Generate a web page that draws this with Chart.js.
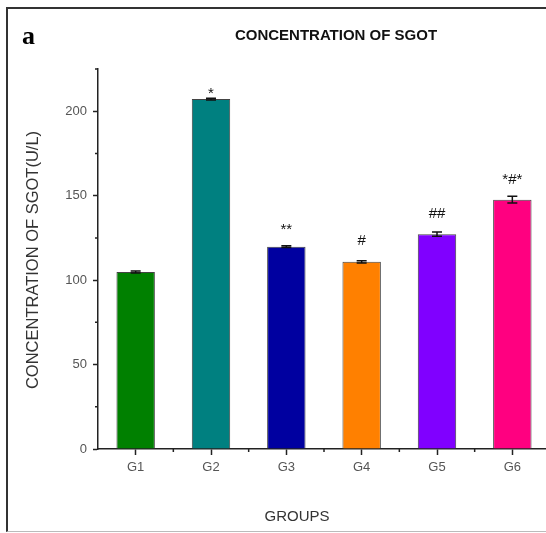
<!DOCTYPE html>
<html>
<head>
<meta charset="utf-8">
<script src="https://cdn.jsdelivr.net/npm/chart.js@4"></script>
<style>
html, body { margin: 0; padding: 0; background: #fff; overflow: hidden; }
#wrap { position: relative; width: 552px; height: 533px; }
#frame { position: absolute; left: 6px; top: 7px; width: 600px; height: 525px; box-sizing: border-box;
  border-top: 2px solid #333; border-left: 2px solid #333; border-bottom: 1px solid #bbb; }
canvas { position: absolute; left: 0; top: 0; }
</style>
</head>
<body>
<div id="wrap">
  <div id="frame"></div>
  <canvas id="sgotChart" width="552" height="533"></canvas>
</div>
<script>
// values
const groups = ['G1', 'G2', 'G3', 'G4', 'G5', 'G6'];
const sgotMean = [104.8, 207.2, 119.8, 110.8, 127.2, 147.6];
const sgotErr = [0.6, 0.5, 0.5, 0.6, 1.3, 2.0];
const sigLabels = ['', '*', '**', '#', '##', '*#*'];
const yTicks = [0, 50, 100, 150, 200];
const yMinorTicks = [25, 75, 125, 175, 225];

const barColors = ['#008000', '#008080', '#0000a0', '#ff8000', '#8000ff', '#ff0080'];
const labelGap = [0, 0, 12, 16, 14, 12];
const sans = '"Liberation Sans", Arial, sans-serif';

// error bars, significance marks, minor ticks and the loose texts
const extras = {
  id: 'extras',
  afterDatasetsDraw(chart) {
    const ctx = chart.ctx;
    const x = chart.scales.x, y = chart.scales.y;
    const bars = chart.getDatasetMeta(0).data;
    ctx.save();
    ctx.strokeStyle = '#111';
    ctx.lineWidth = 1.5;
    ctx.fillStyle = '#111';
    ctx.font = '15px ' + sans;
    ctx.textAlign = 'center';
    ctx.textBaseline = 'alphabetic';
    bars.forEach((bar, i) => {
      const top = y.getPixelForValue(sgotMean[i] + sgotErr[i]);
      const bot = y.getPixelForValue(sgotMean[i] - sgotErr[i]);
      ctx.beginPath();
      ctx.moveTo(bar.x, top); ctx.lineTo(bar.x, bot);
      ctx.moveTo(bar.x - 5, top); ctx.lineTo(bar.x + 5, top);
      ctx.moveTo(bar.x - 5, bot); ctx.lineTo(bar.x + 5, bot);
      ctx.stroke();
      ctx.fillText(sigLabels[i], bar.x, top - labelGap[i]);
    });

    // minor ticks
    ctx.strokeStyle = '#222';
    ctx.beginPath();
    yMinorTicks.forEach(v => {
      const py = y.getPixelForValue(v);
      ctx.moveTo(y.right - 3, py); ctx.lineTo(y.right, py);
    });
    const step = x.getPixelForTick(1) - x.getPixelForTick(0);
    groups.forEach((g, i) => {
      const px = x.getPixelForTick(i) + step / 2;
      ctx.moveTo(px, x.top); ctx.lineTo(px, x.top + 3);
    });
    ctx.stroke();

    // panel letter, title, axis titles
    ctx.fillStyle = '#000';
    ctx.textAlign = 'left';
    ctx.font = 'bold 26px "Liberation Serif", "Times New Roman", serif';
    ctx.fillText('a', 22, 44);

    ctx.textAlign = 'center';
    ctx.textBaseline = 'middle';
    ctx.font = 'bold 15px ' + sans;
    ctx.fillStyle = '#111';
    ctx.fillText('CONCENTRATION OF SGOT', 336, 36);

    ctx.fillStyle = '#333';
    ctx.font = '15px ' + sans;
    ctx.fillText('GROUPS', 297, 517);

    ctx.save();
    ctx.translate(33, 260);
    ctx.rotate(-Math.PI / 2);
    ctx.font = '16.5px ' + sans;
    ctx.fillText('CONCENTRATION OF SGOT(U/L)', 0, 0);
    ctx.restore();

    ctx.restore();
  }
};

new Chart(document.getElementById('sgotChart'), {
  type: 'bar',
  data: {
    labels: groups,
    datasets: [{
      data: sgotMean,
      backgroundColor: barColors,
      borderColor: '#444',
      borderWidth: 1,
      barPercentage: 0.51,
      categoryPercentage: 1
    }]
  },
  options: {
    responsive: false,
    animation: false,
    layout: { padding: { top: 69, right: 2, left: 0, bottom: 0 } },
    plugins: {
      legend: { display: false },
      tooltip: { enabled: false }
    },
    scales: {
      x: {
        afterFit: s => { s.height = 84; },
        border: { color: '#222', width: 1.5 },
        grid: { offset: false, drawOnChartArea: false, tickLength: 6, color: '#222', tickWidth: 1.5 },
        ticks: { color: '#555', font: { size: 13, family: sans }, padding: 5 }
      },
      y: {
        min: 0,
        max: 225,
        afterBuildTicks: s => { s.ticks = yTicks.map(v => ({ value: v })); },
        afterFit: s => { s.width = 98; },
        border: { color: '#222', width: 1.5 },
        grid: { drawOnChartArea: false, tickLength: 5, color: '#222', tickWidth: 1.5 },
        ticks: { color: '#555', font: { size: 13, family: sans }, padding: 6 }
      }
    }
  },
  plugins: [extras]
});
</script>
</body>
</html>
